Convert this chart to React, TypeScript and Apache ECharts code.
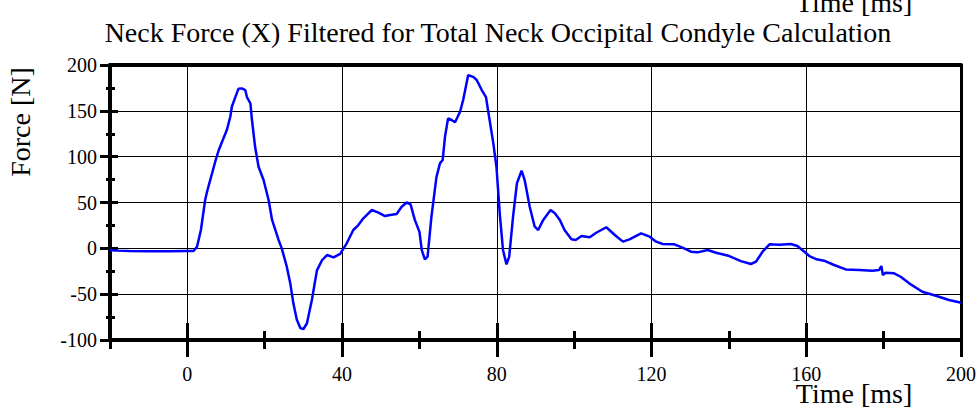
import React, { useEffect, useRef } from "react";
import * as echarts from "echarts";

const times = [
  -20, -18, -15, -10, -5, 0, 1.6, 2.5, 3.5, 4.6, 5.1, 6.4, 7.2, 8.1, 8.95, 10.2, 11.1, 11.5, 12.4, 13.2,
  14.1, 14.97, 15.4, 16.3, 16.7, 17.5, 18.4, 19.7, 21, 21.9, 23.6, 24.4, 25.7, 26.6, 27.4, 28.3, 29.2, 30.0,
  30.9, 32.2, 33.5, 34.8, 36.1, 37.8, 39.5, 41.2, 42.9, 44.2, 45.5, 47.7, 49.4, 51.1, 52.4, 54.1, 55.4, 56.7,
  57.7, 58.8, 60.0, 60.6, 61.4, 62.1, 63.1, 64.4, 65.3, 66.0, 66.6, 67.4, 68.3, 69.2, 70.5, 71.3, 72.6, 73.9,
  74.8, 76.1, 77.2, 78.0, 79.1, 79.9, 80.8, 81.6, 82.5, 83.2, 84.2, 85.2, 86.4, 87.2, 88.5, 89.8, 90.7, 92.0,
  93.9, 95.0, 96.3, 97.5, 99.3, 100.4, 101.9, 104.0, 105.7, 108.3, 110.5, 112.6, 114.3, 117.3, 119.5, 121.2,
  122.9, 125.9, 128.0, 130.2, 131.9, 134.5, 136.7, 140.1, 143.1, 145.7, 147.0, 148.7, 150.5, 153.0, 156.0,
  157.7, 159.5, 160.8, 162.7, 164.6, 167.2, 170.2, 173.7, 177.1, 178.8, 179.4, 179.8, 180.5, 182.7, 184.4,
  186.6, 190.0, 193.5, 196.9, 199.5, 200,
];

const forces = [
  -2, -2.5, -3, -3.2, -3.2, -3, -3, 1.7, 20, 52.7, 62, 82, 94.5, 107, 116, 129, 143.6, 154.5, 165, 174,
  174.5, 172.7, 165, 158, 140, 111, 89, 74.5, 52.7, 31, 9, 0, -20, -38, -60, -78, -87, -88,
  -82, -56, -24, -13, -7.3, -9.8, -6, 5.5, 20, 25.4, 32.7, 41.8, 38.9, 35.2, 36.3, 37.4, 45.4, 50,
  48, 31, 18, -2, -12, -9, 34.5, 78, 92.7, 96.3, 121.7, 141.8, 140, 137.5, 149, 161.8, 189, 187,
  183.6, 172.7, 165, 143.6, 114.5, 89, 36, -2, -17.5, -9, 34.5, 71, 84.7, 74.5, 45.4, 23.6, 20, 31,
  41.8, 38.2, 31, 20, 9.8, 9, 13.4, 12, 17, 23, 14.5, 7.3, 9.8, 16.4, 12.7, 7.3,
  4.7, 4.4, 0.7, -3.7, -4.4, -1.8, -4.8, -8.4, -13.9, -17.1, -14.6, -3.7, 4.4, 4, 4.7,
  2.5, -3.7, -8.4, -12, -13.5, -18.2, -23, -23.7, -24.4, -23.7, -19.3, -29, -26.6, -27.3, -31,
  -38.2, -47.3, -51.7, -56.4, -58.9, -59.5,
];

const xMajorTicks = [0, 40, 80, 120, 160, 200];
const xMinorTicks = [-20, 20, 60, 100, 140, 180];
const xGridLines = [0, 40, 80, 120, 160];

const titleText = "Neck Force (X) Filtered for Total Neck Occipital Condyle Calculation";
const xName = "Time [ms]";
const yName = "Force [N]";

const FONT = "'Liberation Serif', 'Times New Roman', serif";

export default function App() {
  const ref = useRef<HTMLDivElement>(null);
  useEffect(() => {
    if (!ref.current) return;
    const chart = echarts.init(ref.current, null, { renderer: "svg" });
    const black = "#000";
    const baseX = {
      type: "value",
      position: "bottom",
      min: -20,
      max: 200,
      gridIndex: 0,
      axisLine: { show: false, onZero: false },
      axisLabel: { show: false },
      splitLine: { show: false },
    };
    const data = times.map((t, i) => [t, forces[i]]);
    chart.setOption({
      animation: false,
      backgroundColor: "#fff",
      grid: { left: 110, right: 18, top: 65, bottom: 68, containLabel: false },
      xAxis: [
        {
          ...baseX,
          axisLine: { show: true, onZero: false, lineStyle: { color: black, width: 4 } },
          axisTick: { show: true, customValues: xMajorTicks, length: 17, lineStyle: { color: black, width: 3 } },
          axisLabel: {
            show: true,
            customValues: xMajorTicks,
            margin: 24,
            color: black,
            fontFamily: FONT,
            fontSize: 20,
          },
        },
        {
          ...baseX,
          axisTick: { show: true, inside: true, customValues: xMajorTicks, length: 17, lineStyle: { color: black, width: 3 } },
        },
        {
          ...baseX,
          axisTick: { show: true, customValues: xMinorTicks, length: 9, lineStyle: { color: black, width: 3 } },
        },
        {
          ...baseX,
          axisTick: { show: true, inside: true, customValues: xMinorTicks, length: 9, lineStyle: { color: black, width: 3 } },
        },
        {
          ...baseX,
          axisTick: { show: true, inside: true, customValues: xGridLines, length: 275, lineStyle: { color: black, width: 1 } },
        },
        {
          ...baseX,
          position: "top",
          axisLine: { show: true, onZero: false, lineStyle: { color: black, width: 4 } },
          axisTick: { show: false },
        },
      ],
      yAxis: [
        {
          type: "value",
          position: "left",
          min: -100,
          max: 200,
          interval: 50,
          axisLine: { show: true, onZero: false, lineStyle: { color: black, width: 4 } },
          axisTick: { show: true, length: 10, lineStyle: { color: black, width: 3 } },
          minorTick: { show: true, splitNumber: 2, length: 4, lineStyle: { color: black, width: 3 } },
          axisLabel: { show: true, margin: 13, color: black, fontFamily: FONT, fontSize: 20 },
          splitLine: { show: true, lineStyle: { color: black, width: 1 } },
        },
        {
          type: "value",
          position: "left",
          min: -100,
          max: 200,
          interval: 50,
          axisLine: { show: false, onZero: false },
          axisTick: { show: true, inside: true, length: 8, lineStyle: { color: black, width: 3 } },
          minorTick: { show: true, splitNumber: 2, length: 5, lineStyle: { color: black, width: 3 } },
          axisLabel: { show: false },
          splitLine: { show: false },
        },
        {
          type: "value",
          position: "right",
          min: -100,
          max: 200,
          interval: 50,
          axisLine: { show: true, onZero: false, lineStyle: { color: black, width: 3 } },
          axisTick: { show: false },
          axisLabel: { show: false },
          splitLine: { show: false },
        },
      ],
      series: [
        {
          type: "line",
          xAxisIndex: 0,
          yAxisIndex: 0,
          data,
          showSymbol: false,
          symbol: "none",
          smooth: false,
          clip: true,
          lineStyle: { color: "#0000ff", width: 2.5 },
          z: 5,
        },
      ],
      graphic: [
        {
          type: "text",
          x: 498,
          y: 32,
          style: {
            text: titleText,
            font: `28px ${FONT}`,
            fill: black,
            align: "center",
            verticalAlign: "middle",
          },
        },
        {
          type: "text",
          x: 20,
          y: 122,
          rotation: Math.PI / 2,
          style: {
            text: yName,
            font: `28px ${FONT}`,
            fill: black,
            align: "center",
            verticalAlign: "middle",
          },
        },
        {
          type: "text",
          x: 854,
          y: 393,
          style: {
            text: xName,
            font: `28px ${FONT}`,
            fill: black,
            align: "center",
            verticalAlign: "middle",
          },
        },
        {
          type: "text",
          x: 854,
          y: 2,
          style: {
            text: xName,
            font: `28px ${FONT}`,
            fill: black,
            align: "center",
            verticalAlign: "middle",
          },
        },
      ],
    });
    return () => chart.dispose();
  }, []);
  return (
    <div
      ref={ref}
      style={{ position: "fixed", left: 0, top: 0, width: "979px", height: "408px" }}
    />
  );
}
